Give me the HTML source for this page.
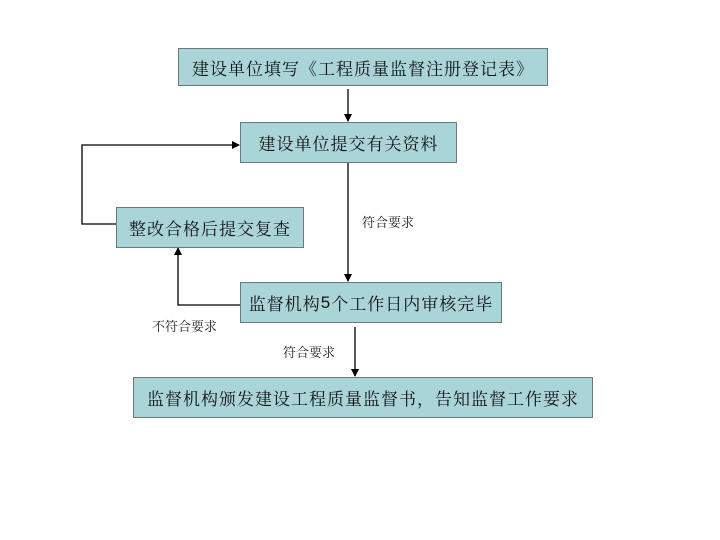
<!DOCTYPE html>
<html><head><meta charset="utf-8"><style>
body{margin:0;width:720px;height:540px;background:#fff;position:relative;overflow:hidden;font-family:"Noto Serif CJK SC","Liberation Serif",serif}
.b{position:absolute;background:#a9d4d8;border:1px solid #6a7a7c;box-sizing:border-box;display:flex;align-items:center;justify-content:center;font-size:17px;color:#111;white-space:nowrap;letter-spacing:1px}
.l{position:absolute;font-size:13px;color:#222;white-space:nowrap}
svg{position:absolute;left:0;top:0}
</style></head><body>
<svg width="720" height="540">
<defs><marker id="a" markerWidth="8" markerHeight="8" refX="7" refY="4" orient="auto" markerUnits="userSpaceOnUse"><path d="M0,0 L8,4 L0,8 z" fill="#000"/></marker></defs>
<g stroke="#000" stroke-width="1.3" fill="none">
<line x1="348" y1="89" x2="348" y2="121" marker-end="url(#a)"/>
<line x1="348" y1="162" x2="348" y2="281" marker-end="url(#a)"/>
<polyline points="116,224 82,224 82,145 239,145" marker-end="url(#a)"/>
<polyline points="240,305 178,305 178,248" marker-end="url(#a)"/>
<line x1="355" y1="327" x2="355" y2="376" marker-end="url(#a)"/>
</g></svg>
<div class="b" style="left:178px;top:48px;width:370px;height:38px">建设单位填写《工程质量监督注册登记表》</div>
<div class="b" style="left:240px;top:122px;width:217px;height:41px">建设单位提交有关资料</div>
<div class="b" style="left:116px;top:207px;width:188px;height:41px">整改合格后提交复查</div>
<div class="b" style="left:240px;top:282px;width:262px;height:41px">监督机构<span style="font-family:'Liberation Sans',sans-serif">5</span>个工作日内审核完毕</div>
<div class="b" style="left:133px;top:377px;width:460px;height:41px">监督机构颁发建设工程质量监督书，告知监督工作要求</div>
<div class="l" style="left:362px;top:212px">符合要求</div>
<div class="l" style="left:152px;top:316px">不符合要求</div>
<div class="l" style="left:283px;top:342px">符合要求</div>
</body></html>
